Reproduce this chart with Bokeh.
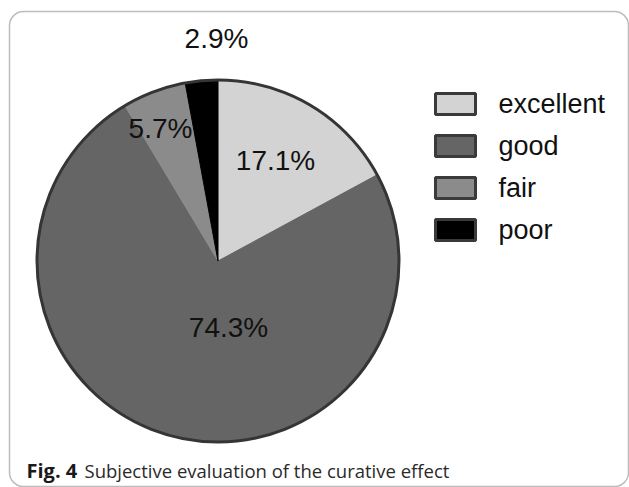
import numpy as np
from bokeh.plotting import figure
from bokeh.models import Range1d, ColumnDataSource, BoxAnnotation
from bokeh.core.properties import value
from bokeh.embed import file_html
from bokeh.resources import INLINE

# ---- data ----
categories = ["excellent", "good", "fair", "poor"]
percents = [17.1, 74.3, 5.7, 2.9]
pct_labels = ["17.1%", "74.3%", "5.7%", "2.9%"]
colors = ["#d3d3d3", "#656565", "#8b8b8b", "#000000"]
caption_bold = "Fig. 4"
caption_text = "Subjective evaluation of the curative effect"

W, H = 629, 487
def Y(v):
    return H - v

# ---- layout (pixel positions) ----
cx, cy, r = 217.5, 260.5, 181
label_pos = [(275, 160), (228, 327), (160, 128), (216, 38)]  # baselines (adjusted)
legend_box_x, legend_text_x = 455, 498
legend_baselines = [103, 145, 187, 229]
legend_box_centers = [103.5, 145.5, 187.5, 229.5]

p = figure(width=W, height=H, output_backend="svg", toolbar_location=None,
           x_range=Range1d(0, W), y_range=Range1d(0, H),
           x_axis_location=None, y_axis_location=None, min_border=0)
p.grid.visible = False
p.outline_line_color = None
p.background_fill_color = "white"
p.border_fill_color = "white"

total = sum(percents)
cum = np.cumsum([0] + percents)
start = [np.pi / 2 - 2 * np.pi * cum[i] / total for i in range(len(percents))]
end = [np.pi / 2 - 2 * np.pi * cum[i + 1] / total for i in range(len(percents))]

src = ColumnDataSource(dict(x=[cx] * 4, y=[Y(cy)] * 4, start=start, end=end,
                            color=colors, cat=categories))
p.wedge(x="x", y="y", radius=r, start_angle="start", end_angle="end",
        direction="clock", fill_color="color", line_color="color", line_width=1,
        source=src)
# outer outline
p.arc(x=[cx], y=[Y(cy)], radius=r, start_angle=0, end_angle=2 * np.pi,
      line_color="#353535", line_width=3)

# percentage labels
p.text(x=[pt[0] for pt in label_pos], y=[Y(pt[1]) for pt in label_pos], text=pct_labels,
       text_font=value("Liberation Sans"), text_font_size="28px", text_color="#111111",
       text_align="center", text_baseline="alphabetic")

# legend
p.rect(x=[legend_box_x] * 4, y=[Y(c) for c in legend_box_centers], width=40, height=21,
       fill_color=colors, line_color="#3a3a3a", line_width=3)
p.text(x=[legend_text_x] * 4, y=[Y(b) for b in legend_baselines], text=categories,
       text_font=value("Liberation Sans"), text_font_size="27px", text_color="#111111",
       text_align="left", text_baseline="alphabetic")

# caption
p.text(x=[26], y=[Y(470)], text=[caption_bold], text_font=value("Open Sans"),
       text_font_size="20px", text_font_style="bold", text_color="#1a1a1a",
       text_baseline="alphabetic")
p.text(x=[84], y=[Y(470)], text=[caption_text], text_font=value("Open Sans"),
       text_font_size="18.5px", text_color="#2a2a2a", text_baseline="alphabetic")

# rounded frame
p.add_layout(BoxAnnotation(left=9, right=628, bottom=Y(486), top=Y(11),
                           fill_color=None, fill_alpha=0, line_color="#222222",
                           line_width=1.5, border_radius=14))

open("out.html", "w").write(file_html(p, INLINE))
